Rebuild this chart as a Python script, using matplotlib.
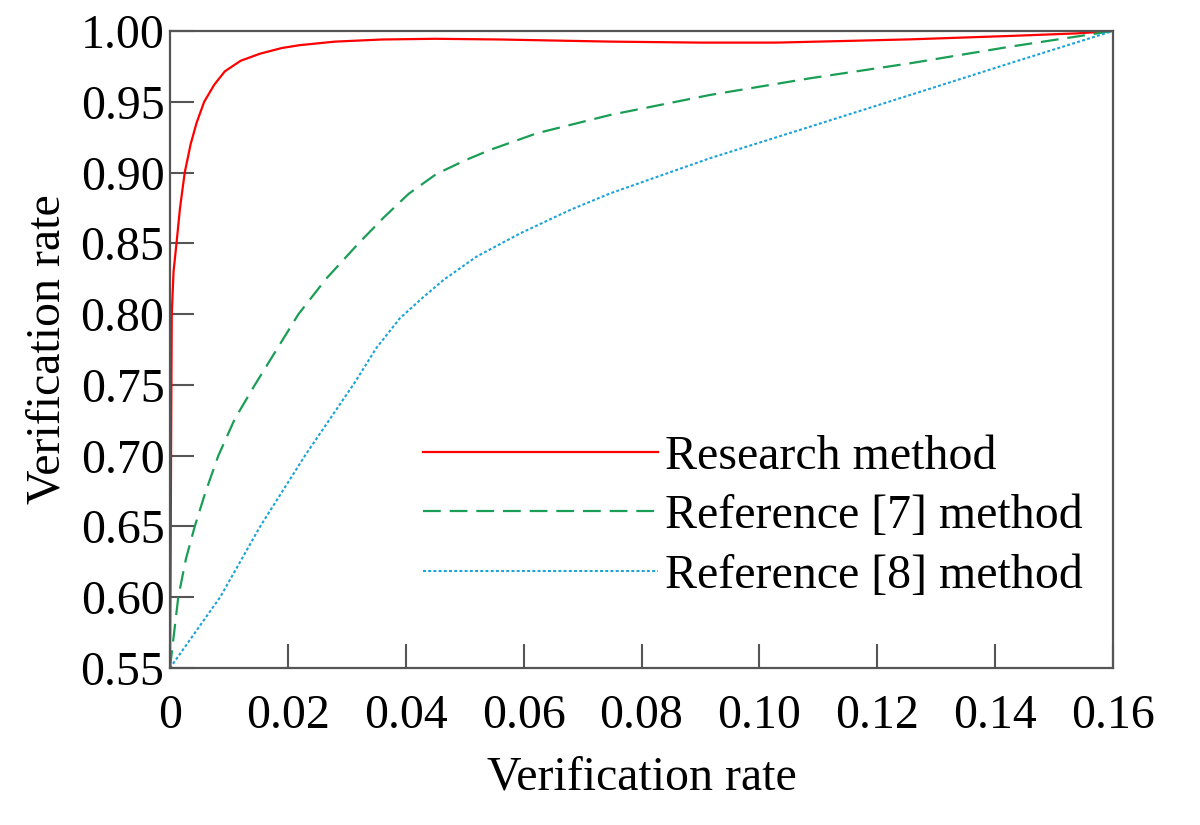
import matplotlib.pyplot as plt

plt.rcParams["font.family"] = ["Liberation Serif", "DejaVu Serif"]

# Research method
x_research = [0, 0.0001, 0.0002, 0.0003, 0.0006, 0.0011, 0.0017, 0.0025, 0.0035, 0.0045,
              0.0058, 0.0075, 0.0093, 0.0120, 0.0153, 0.019, 0.022, 0.028, 0.036, 0.045,
              0.056, 0.0747, 0.090, 0.1029, 0.1150, 0.1256, 0.1425, 0.1538, 0.160]
y_research = [0.55, 0.62, 0.72, 0.80, 0.83, 0.85, 0.875, 0.90, 0.92, 0.935,
              0.95, 0.962, 0.9715, 0.979, 0.984, 0.988, 0.990, 0.9925, 0.994, 0.9945,
              0.994, 0.9925, 0.9918, 0.9918, 0.993, 0.9941, 0.9965, 0.9983, 1.0]

# Reference [7] method
x_ref7 = [0, 0.0014, 0.0027, 0.0042, 0.0060, 0.0082, 0.0110, 0.0144, 0.0218, 0.0265,
          0.032, 0.0362, 0.0405, 0.0452, 0.050, 0.0543, 0.0622, 0.0747, 0.0916, 0.1086,
          0.1256, 0.1425, 0.160]
y_ref7 = [0.55, 0.60, 0.627, 0.65, 0.674, 0.70, 0.726, 0.75, 0.80, 0.825,
          0.85, 0.868, 0.885, 0.899, 0.9085, 0.916, 0.9277, 0.9407, 0.9548, 0.9666,
          0.9772, 0.9889, 1.0]

# Reference [8] method
x_ref8 = [0, 0.0085, 0.0153, 0.0229, 0.0314, 0.035, 0.039, 0.0427, 0.0464, 0.052,
          0.0594, 0.0679, 0.0747, 0.0916, 0.1086, 0.1256, 0.1425, 0.160]
y_ref8 = [0.55, 0.60, 0.65, 0.70, 0.752, 0.776, 0.797, 0.811, 0.8241, 0.8406,
          0.857, 0.8736, 0.8853, 0.9101, 0.9324, 0.9548, 0.9772, 1.0]

x_ticks = [0, 0.02, 0.04, 0.06, 0.08, 0.10, 0.12, 0.14, 0.16]
x_tick_labels = ["0", "0.02", "0.04", "0.06", "0.08", "0.10", "0.12", "0.14", "0.16"]
y_ticks = [0.55, 0.60, 0.65, 0.70, 0.75, 0.80, 0.85, 0.90, 0.95, 1.00]

fig = plt.figure(figsize=(12, 8.25), dpi=100)
ax = fig.add_axes([170 / 1200, 1 - 668 / 825, (1113 - 170) / 1200, (668 - 31) / 825])

ax.plot(x_research, y_research, color="#FF0000", linewidth=1.6, label="Research method")
ax.plot(x_ref7, y_ref7, color="#1A9E55", linewidth=1.6, dashes=(8, 4),
        label="Reference [7] method")
ax.plot(x_ref8, y_ref8, color="#1AA3D8", linewidth=1.5, dashes=(1.4, 1.1),
        label="Reference [8] method")

ax.set_xlim(0, 0.16)
ax.set_ylim(0.55, 1.00)
ax.set_xticks(x_ticks)
ax.set_xticklabels(x_tick_labels)
ax.set_yticks(y_ticks)
ax.set_yticklabels([f"{v:.2f}" for v in y_ticks])

ax.tick_params(direction="in", length=17, width=1.5, color="#555555",
               labelsize=34.5, labelcolor="black")
ax.tick_params(axis="x", pad=19)
ax.tick_params(axis="y", pad=4)
for side in ax.spines.values():
    side.set_color("#555555")
    side.set_linewidth(1.6)

ax.set_xlabel("Verification rate", fontsize=34.5, labelpad=12)
ax.set_ylabel("Verification rate", fontsize=34.5, labelpad=8)

ax.legend(loc="upper left", bbox_to_anchor=(0.268, 0.366), frameon=False,
          fontsize=34.5, handlelength=4.9, handletextpad=0.15, labelspacing=0.32,
          borderpad=0, borderaxespad=0)

fig.savefig("out.png", dpi=100)
